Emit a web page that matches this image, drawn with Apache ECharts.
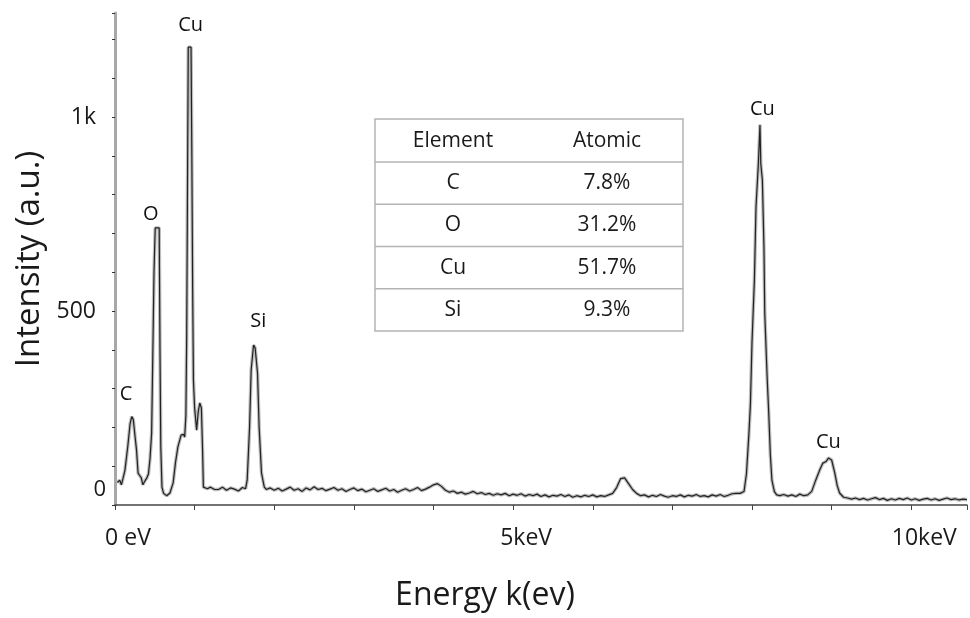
<!DOCTYPE html>
<html>
<head>
<meta charset="utf-8">
<script src="https://cdn.jsdelivr.net/npm/echarts@6/dist/echarts.min.js"></script>
<style>
  html, body { margin: 0; padding: 0; background: #fff; }
  #main { width: 970px; height: 618px; }
</style>
</head>
<body>
<div id="main"></div>
<script>
// spectrum, energy in keV and counts
var energy = [
  0.03, 0.06, 0.08, 0.10, 0.125, 0.16, 0.19, 0.21, 0.23, 0.25, 0.27, 0.29, 0.31, 0.33, 0.35, 0.37, 0.40, 0.42, 0.44, 0.46,
  0.475, 0.49, 0.505, 0.555, 0.565, 0.575, 0.59, 0.61, 0.625, 0.65, 0.69, 0.73, 0.76, 0.79, 0.83, 0.86, 0.875, 0.89, 0.90, 0.91,
  0.92, 0.955, 0.965, 0.975, 0.985, 1.00, 1.025, 1.045, 1.065, 1.085, 1.10, 1.11, 1.13, 1.16, 1.20, 1.25, 1.30, 1.35, 1.40, 1.45,
  1.50, 1.55, 1.60, 1.64, 1.66, 1.69, 1.71, 1.74, 1.76, 1.79, 1.81, 1.84, 1.875, 1.90, 1.95, 2.00, 2.05, 2.10, 2.15, 2.20,
  2.25, 2.30, 2.35, 2.40, 2.45, 2.50, 2.55, 2.60, 2.65, 2.70, 2.75, 2.80, 2.85, 2.90, 2.95, 3.00, 3.05, 3.10, 3.15, 3.20,
  3.25, 3.30, 3.35, 3.40, 3.45, 3.50, 3.55, 3.60, 3.65, 3.70, 3.75, 3.80, 3.85, 3.90, 3.95, 4.00, 4.05, 4.10, 4.15, 4.20,
  4.25, 4.30, 4.35, 4.40, 4.45, 4.50, 4.55, 4.60, 4.65, 4.70, 4.75, 4.80, 4.85, 4.90, 4.95, 5.00, 5.05, 5.10, 5.15, 5.20,
  5.25, 5.30, 5.35, 5.40, 5.45, 5.50, 5.55, 5.60, 5.65, 5.70, 5.75, 5.80, 5.85, 5.90, 5.95, 6.00, 6.05, 6.10, 6.15, 6.20,
  6.25, 6.30, 6.35, 6.40, 6.45, 6.50, 6.55, 6.60, 6.65, 6.70, 6.75, 6.80, 6.85, 6.90, 6.95, 7.00, 7.05, 7.10, 7.15, 7.20,
  7.25, 7.30, 7.35, 7.40, 7.45, 7.50, 7.55, 7.60, 7.65, 7.70, 7.75, 7.80, 7.85, 7.90, 7.93, 7.96, 7.98, 8.00, 8.03, 8.05,
  8.08, 8.09, 8.10, 8.11, 8.13, 8.15, 8.16, 8.19, 8.21, 8.23, 8.25, 8.28, 8.31, 8.35, 8.40, 8.45, 8.50, 8.55, 8.60, 8.65,
  8.70, 8.75, 8.80, 8.85, 8.89, 8.93, 8.96, 9.00, 9.04, 9.07, 9.10, 9.15, 9.20, 9.25, 9.30, 9.35, 9.40, 9.45, 9.50, 9.55,
  9.60, 9.65, 9.70, 9.75, 9.80, 9.85, 9.90, 9.95, 10.00, 10.05, 10.10, 10.15, 10.20, 10.25, 10.30, 10.35, 10.40, 10.45, 10.50, 10.55,
  10.60, 10.65, 10.70
];
var counts = [
  58, 64, 52, 68, 90, 150, 210, 228, 220, 180, 142, 82, 76, 70, 52, 60, 70, 80, 120, 185,
  390, 600, 714, 714, 400, 150, 46, 30, 26, 24, 31, 57, 110, 150, 180, 182, 175, 230, 425, 800,
  1180, 1180, 900, 560, 322, 250, 193, 240, 263, 250, 140, 46, 44, 42, 46, 40, 40, 46, 38, 44,
  41, 36, 45, 42, 64, 200, 348, 412, 405, 340, 200, 82, 46, 40, 44, 38, 43, 36, 41, 46,
  38, 42, 35, 44, 39, 47, 40, 43, 37, 41, 45, 38, 42, 35, 40, 44, 37, 41, 34, 38,
  42, 35, 39, 43, 36, 40, 33, 38, 42, 36, 40, 45, 37, 41, 46, 52, 55, 48, 38, 33,
  36, 30, 33, 28, 31, 35, 29, 32, 27, 30, 25, 29, 26, 30, 24, 28, 25, 29, 23, 27,
  24, 28, 22, 26, 21, 25, 23, 27, 22, 26, 20, 24, 21, 25, 22, 26, 21, 24, 22, 26,
  30, 45, 68, 70, 55, 40, 30, 24, 26, 21, 25, 22, 27, 23, 20, 24, 22, 26, 21, 25,
  23, 27, 22, 24, 21, 26, 23, 27, 22, 25, 29, 30, 30, 35, 80, 180, 260, 420, 580, 768,
  880, 880, 980, 880, 838, 665, 495, 330, 237, 130, 64, 35, 26, 24, 27, 23, 26, 22, 28, 24,
  26, 35, 64, 90, 108, 112, 121, 116, 82, 50, 31, 20, 18, 15, 18, 14, 17, 13, 16, 19,
  14, 17, 12, 16, 13, 17, 14, 18, 13, 16, 12, 15, 17, 13, 16, 12, 15, 18, 14, 16,
  13, 15, 14
];

// peak annotations (label centre in data units)
var peakNames = ['C', 'O', 'Cu', 'Si', 'Cu', 'Cu'];
var peakEnergy = [0.14, 0.45, 0.95, 1.80, 8.13, 8.96];
var peakLabelY = [286, 750, 1237, 474, 1021, 162];

// composition table
var tableHeader = ['Element', 'Atomic'];
var elements = ['C', 'O', 'Cu', 'Si'];
var atomic = ['7.8%', '31.2%', '51.7%', '9.3%'];

var FONT = '"Open Sans", sans-serif';

var spectrum = energy.map(function (e, i) { return [e, counts[i]]; });
var peaks = peakNames.map(function (n, i) { return { name: n, value: [peakEnergy[i], peakLabelY[i]] }; });

// table drawn as graphic
var tx = 375, ty = 119, tw = 308, headH = 43, rowH = 42.25;
var colX = [453, 607];
var table = [];
table.push({ type: 'rect', shape: { x: tx, y: ty, width: tw, height: headH + rowH * elements.length },
  style: { fill: '#fff', stroke: '#b4b4b4', lineWidth: 1.5 } });
for (var r = 0; r < elements.length; r++) {
  var ly = ty + headH + rowH * r;
  table.push({ type: 'line', shape: { x1: tx, y1: ly, x2: tx + tw, y2: ly },
    style: { stroke: '#b4b4b4', lineWidth: 1.5 } });
}
function cell(text, x, y) {
  return { type: 'text', x: x, y: y, style: { text: text, fill: '#1a1a1a', font: '21px ' + FONT,
    textAlign: 'center', textVerticalAlign: 'middle' } };
}
table.push(cell(tableHeader[0], colX[0], ty + headH / 2 + 1));
table.push(cell(tableHeader[1], colX[1], ty + headH / 2 + 1));
for (var k = 0; k < elements.length; k++) {
  var cy = ty + headH + rowH * k + rowH / 2;
  table.push(cell(elements[k], colX[0], cy));
  table.push(cell(atomic[k], colX[1], cy));
}

var myChart = echarts.init(document.getElementById('main'));
var option = {
  animation: false,
  backgroundColor: '#fff',
  grid: { left: 115, right: 0, top: 13, bottom: 113 },
  xAxis: {
    type: 'value', min: 0, max: 10.7, interval: 1,
    name: 'Energy k(ev)', nameLocation: 'middle', nameGap: 75,
    nameTextStyle: { fontSize: 32, fontFamily: FONT, color: '#1a1a1a', padding: [0, 112, 0, 0] },
    axisLine: { show: true, lineStyle: { color: '#444', width: 1.5 } },
    axisTick: { show: true, length: 5, lineStyle: { color: '#444' } },
    splitLine: { show: false },
    axisLabel: {
      fontSize: 23, fontFamily: FONT, color: '#1a1a1a', margin: 22, padding: [0, 0, 0, 26],
      formatter: function (v) {
        if (v === 0) return '0 eV';
        if (v === 5) return '5keV';
        if (v === 10) return '10keV';
        return '';
      }
    }
  },
  yAxis: {
    type: 'value', min: 0, max: 1268, interval: 100,
    name: 'Intensity (a.u.)', nameLocation: 'middle', nameGap: 49,
    nameTextStyle: { fontSize: 33, fontFamily: FONT, color: '#1a1a1a' },
    axisLine: { show: true, lineStyle: { color: '#a8a8a8', width: 3 } },
    axisTick: { show: true, length: 3, lineStyle: { color: '#333' } },
    splitLine: { show: false },
    axisLabel: {
      fontSize: 23, fontFamily: FONT, color: '#1a1a1a', margin: 9,
      formatter: function (v) {
        if (v === 0) return '{z|0}';
        if (v === 500) return '{n|500}';
        if (v === 1000) return '{n|1k}';
        return '';
      },
      rich: {
        z: { fontSize: 22, fontFamily: FONT, color: '#1a1a1a', padding: [0, 0, 30, 0] },
        n: { fontSize: 23, fontFamily: FONT, color: '#1a1a1a', padding: [0, 10, 0, 0] }
      }
    }
  },
  graphic: table,
  series: [
    {
      type: 'line', data: spectrum, showSymbol: false, silent: true,
      lineStyle: { color: '#bdbdbd', width: 3.5 }
    },
    {
      type: 'line', data: spectrum, showSymbol: false, silent: true,
      lineStyle: { color: '#222', width: 1.2 }
    },
    {
      type: 'scatter', data: peaks, symbolSize: 1, silent: true,
      itemStyle: { color: 'rgba(0,0,0,0)', opacity: 1 },
      label: {
        show: true, position: 'inside', formatter: '{b}', opacity: 1,
        fontSize: 20, fontFamily: FONT, color: '#111'
      }
    }
  ]
};
myChart.setOption(option);
</script>
</body>
</html>
